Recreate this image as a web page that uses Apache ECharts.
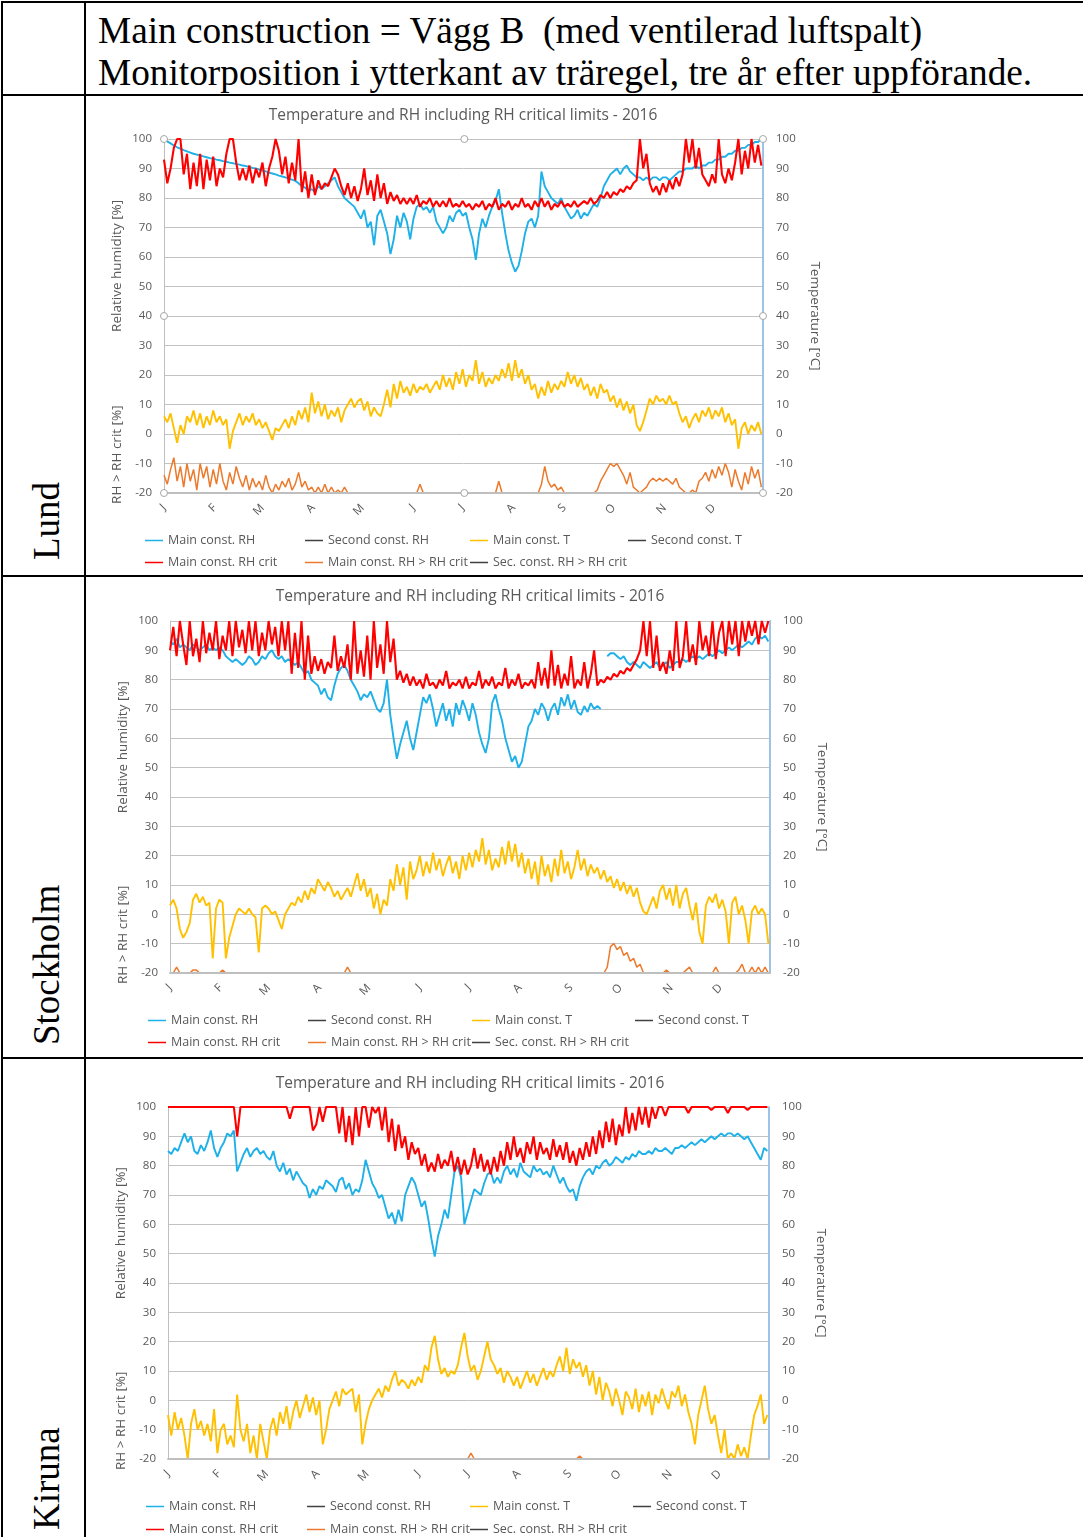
<!DOCTYPE html>
<html>
<head>
<meta charset="utf-8">
<script src="https://cdn.jsdelivr.net/npm/echarts@6/dist/echarts.min.js"></script>
<style>
  html, body { margin: 0; padding: 0; background: #fff; }
  #page { position: relative; width: 1083px; height: 1537px; overflow: hidden;
          font-family: "Liberation Serif", "Times New Roman", serif; color: #000; }
  .hl { position: absolute; left: 1px; right: 0; height: 2px; background: #000; }
  .vl { position: absolute; top: 1px; bottom: 0; width: 2px; background: #000; }
  .head { position: absolute; left: 98px; font-size: 37.3px; line-height: 42px; white-space: nowrap; }
  .rowlab { position: absolute; left: 26px; font-size: 37px; line-height: 41px; white-space: nowrap;
            transform-origin: 0 0; transform: rotate(-90deg); }
  .chart { position: absolute; left: 87px; width: 996px; filter: blur(0.6px); }
</style>
</head>
<body>
<div id="page">
  <div class="hl" style="top:1px"></div>
  <div class="hl" style="top:94px"></div>
  <div class="hl" style="top:575px"></div>
  <div class="hl" style="top:1057px"></div>
  <div class="vl" style="left:1px"></div>
  <div class="vl" style="left:84px"></div>

  <div class="head" style="top:10px">Main construction = Vägg B&nbsp;&nbsp;(med ventilerad luftspalt)<br>Monitorposition i ytterkant av träregel, tre år efter uppförande.</div>

  <div class="rowlab" style="top:560px">Lund</div>
  <div class="rowlab" style="top:1045px">Stockholm</div>
  <div class="rowlab" style="top:1530px">Kiruna</div>

  <div id="chartLund" class="chart" style="top:97px;height:478px"></div>
  <div id="chartStockholm" class="chart" style="top:578px;height:479px"></div>
  <div id="chartKiruna" class="chart" style="top:1060px;height:477px"></div>
</div>

<script>
// ---- Calendar / axis definitions (2016, leap year) ----
const YEAR = 2016;
const MONTH_DAYS = [31, 29, 31, 30, 31, 30, 31, 31, 30, 31, 30, 31];
const MONTH_LETTERS = ['J', 'F', 'M', 'A', 'M', 'J', 'J', 'A', 'S', 'O', 'N', 'D'];
const Y_MIN = -20, Y_MAX = 100, Y_STEP = 10;
const STEP = 2; // one reading every second day

const TITLE = 'Temperature and RH including RH critical limits - 2016';
const NAME_RH = 'Main const. RH';
const NAME_RH2 = 'Second const. RH';
const NAME_T = 'Main const. T';
const NAME_T2 = 'Second const. T';
const NAME_CRIT = 'Main const. RH crit';
const NAME_OVER = 'Main const. RH > RH crit';
const NAME_OVER2 = 'Sec. const. RH > RH crit';

// ---- Lund ----
const LUND_RH = [
  100,99.2,98.5,97.8,97.2,96.7,96.2,95.8,95.4,95,
  94.7,94.4,94.1,93.8,93.5,93.3,93,92.8,92.5,92.3,
  92,91.8,91.5,91.3,91,90.8,90.5,90.2,90,89.6,
  89.3,89,88.6,88.3,88,87.6,87.3,87,86.6,86.2,
  85.8,85,84,83.5,82.5,83,82,84,83,84,
  85,86,87,84,82,80,79,78,77,75,
  73,76,70,72,64,74,76,72,68,61,
  66,74,70,75,72,66,73,77,78,76,
  77,75,77,72,70,68,70,74,72,75,
  76,74,75,70,66,59,68,73,70,74,
  77,79,83,75,68,62,58,55,57,62,
  68,72,73,70,74,89,84,82,80,79,
  78,80,77,75,73,74,76,73,75,74,
  76,78,77,80,84,86,88,89,90,88,
  90,91,89,88,87,87,86,87,86,87,
  87,86,87,87,86,87,88,89,89,90,
  90,90,91,90,91,91,92,92,93,93,
  94,94,95,95,96,96,97,97,98,98,
  99,99,100
];
const LUND_CRIT = [
  93,85,90,97,100,100,88,95,83,92,
  84,95,83,93,86,94,84,90,87,95,
  100,100,92,86,90,86,91,85,90,87,
  92,84,90,94,100,96,88,94,85,92,
  86,100,82,89,80,88,81,86,83,85,
  84,87,90,88,84,81,85,80,84,79,
  83,90,81,86,79,88,80,85,78,82,
  79,81,78,80,78,80,78,81,77,79,
  78,80,77,79,77,79,77,80,77,78,
  77,79,77,78,76,78,77,79,76,78,
  77,80,76,78,77,79,76,78,77,80,
  77,78,76,79,77,80,77,79,76,78,
  77,79,77,78,77,79,77,78,79,78,
  80,78,79,81,80,82,80,82,81,83,
  82,84,83,85,86,100,90,95,85,82,
  84,81,85,82,86,83,87,84,88,100,
  92,100,90,97,88,86,84,88,85,100,
  88,85,90,86,92,100,88,96,90,100,
  92,98,91
];
const LUND_T = [
  6,4,7,2,-3,3,0,6,4,8,
  3,7,2,6,3,8,4,6,3,5,
  -5,1,4,7,3,6,4,7,3,5,
  2,4,1,-2,2,1,3,5,2,6,
  3,8,5,9,4,14,7,11,6,10,
  5,8,6,9,4,8,10,12,9,11,
  12,8,11,6,9,7,6,10,15,9,
  17,12,18,14,16,13,17,14,16,15,
  17,14,16,18,15,20,16,19,15,21,
  17,22,16,20,18,25,17,21,16,19,
  17,20,18,22,19,24,18,25,19,22,
  17,20,15,17,12,16,13,18,14,17,
  15,18,16,21,17,20,16,19,15,17,
  13,16,12,17,14,15,11,13,9,12,
  8,11,7,10,3,1,4,8,12,10,
  13,11,12,10,13,10,11,7,4,6,
  2,5,7,4,8,6,9,5,8,6,
  9,4,7,3,5,-5,2,4,0,3,
  1,4,0
];
const LUND_OVER = [
  -14,-17,-12,-8,-16,-11,-18,-10,-16,-12,
  -19,-10,-15,-11,-18,-12,-17,-10,-16,-19,
  -13,-17,-11,-15,-18,-14,-19,-15,-18,-16,
  -19,-14,-18,-20,-17,-19,-16,-18,-15,-19,
  -17,-13,-18,-16,-19,-18,-20,-18,-20,-17,
  -20,-18,-20,-19,-20,-18,-20,-20,-20,-20,
  -20,-20,-20,-20,-20,-20,-20,-20,-20,-20,
  -20,-20,-20,-20,-20,-20,-20,-20,-17,-20,
  -20,-20,-20,-20,-20,-20,-20,-20,-20,-20,
  -20,-20,-20,-20,-20,-20,-20,-20,-20,-20,
  -20,-20,-16,-20,-20,-20,-20,-20,-20,-20,
  -20,-20,-20,-20,-20,-17,-11,-16,-18,-17,
  -19,-18,-20,-20,-20,-20,-20,-20,-20,-20,
  -20,-20,-19,-16,-14,-12,-10,-11,-10,-12,
  -14,-17,-13,-18,-19,-20,-19,-18,-16,-15,
  -16,-15,-16,-15,-16,-17,-15,-18,-19,-20,
  -20,-19,-20,-16,-15,-13,-16,-12,-15,-11,
  -14,-10,-13,-18,-12,-16,-19,-13,-17,-11,
  -15,-12,-18
];

// ---- Stockholm ----
const STHLM_RH = [
  93,92,94,91,92,91,90,92,91,90,
  91,92,90,91,90,91,90,88,87,86,
  87,86,85,86,88,87,85,86,88,87,
  89,90,88,87,88,86,87,86,85,86,
  84,82,83,80,79,78,75,77,74,73,
  78,82,84,85,83,80,78,76,73,75,
  74,76,73,70,69,72,80,68,60,53,
  58,62,66,60,56,62,68,74,72,75,
  70,64,68,72,66,70,64,72,68,73,
  70,66,72,68,62,58,55,60,72,75,
  70,66,60,56,52,54,50,52,58,64,
  66,70,68,72,70,66,70,72,68,74,
  71,75,70,73,69,68,71,69,72,70,
  71,70,null,88,89,89,88,87,88,86,
  85,86,85,84,86,85,84,85,86,84,
  85,86,84,85,86,86,87,86,87,88,
  87,88,87,88,89,88,89,90,89,90,
  91,90,91,92,91,92,93,92,94,95,
  94,95,93
];
const STHLM_CRIT = [
  90,98,88,100,92,85,100,88,94,86,
  100,89,96,90,100,87,95,90,100,88,
  100,91,97,89,100,90,100,88,96,90,
  100,92,98,88,100,90,100,82,96,84,
  100,80,95,82,88,83,87,82,86,84,
  95,83,88,84,92,80,100,82,90,81,
  95,80,100,84,92,82,100,86,94,80,
  83,79,82,78,81,78,80,77,82,78,
  79,77,80,78,83,77,79,78,80,77,
  81,77,79,78,83,77,80,78,81,77,
  79,78,84,77,80,78,82,77,79,78,
  80,77,86,78,84,77,90,78,85,77,
  82,78,88,77,80,78,86,77,82,90,
  78,80,79,81,80,82,81,83,82,84,
  83,85,87,90,100,88,100,84,95,83,
  86,82,90,83,100,84,88,100,86,92,
  85,100,90,95,88,100,87,96,100,88,
  100,92,100,88,100,93,100,95,100,92,
  100,96,100
];
const STHLM_T = [
  3,5,2,-5,-8,-6,-3,5,7,4,
  6,3,4,-15,2,5,4,-15,-8,-4,
  0,2,1,0,2,0,-1,-13,2,3,
  2,0,1,-2,-5,0,2,4,3,6,
  4,8,5,9,7,12,10,8,11,9,
  6,8,5,7,9,6,10,14,8,12,
  6,9,2,7,0,5,3,12,8,17,
  10,16,5,18,12,15,20,13,18,14,
  21,15,19,13,17,20,14,18,12,20,
  15,21,16,22,18,26,17,22,15,19,
  16,23,17,25,18,24,16,21,14,19,
  12,18,10,20,13,17,11,19,13,22,
  14,18,12,16,22,15,19,13,17,14,
  16,12,15,11,13,9,12,8,11,7,
  10,6,9,4,1,0,3,6,2,8,
  10,5,9,3,10,2,7,9,3,-2,
  4,-6,-10,3,6,4,7,2,5,1,
  -10,4,6,0,3,-2,-10,1,3,0,
  2,0,-10
];
const STHLM_OVER = [
  -20,-20,-18,-20,-20,-20,-20,-19,-19,-20,
  -20,-20,-20,-20,-20,-20,-19,-20,-20,-20,
  -20,-20,-20,-20,-20,-20,-20,-20,-20,-20,
  -20,-20,-20,-20,-20,-20,-20,-20,-20,-20,
  -20,-20,-20,-20,-20,-20,-20,-20,-20,-20,
  -20,-20,-20,-20,-18,-20,-20,-20,-20,-20,
  -20,-20,-20,-20,-20,-20,-20,-20,-20,-20,
  -20,-20,-20,-20,-20,-20,-20,-20,-20,-20,
  -20,-20,-20,-20,-20,-20,-20,-20,-20,-20,
  -20,-20,-20,-20,-20,-20,-20,-20,-20,-20,
  -20,-20,-20,-20,-20,-20,-20,-20,-20,-20,
  -20,-20,-20,-20,-20,-20,-20,-20,-20,-20,
  -20,-20,-20,-20,-20,-20,-20,-20,-20,-20,
  -20,-20,-20,-18,-11,-10,-12,-11,-14,-13,
  -16,-15,-18,-17,-20,-20,-20,-20,-20,-20,
  -20,-19,-20,-20,-20,-20,-20,-19,-18,-20,
  -20,-20,-20,-20,-20,-20,-18,-20,-20,-20,
  -20,-20,-20,-19,-17,-20,-20,-18,-20,-18,
  -20,-18,-20
];

// ---- Kiruna ----
const KIRUNA_RH = [
  85,84,86,85,88,91,88,90,85,84,
  87,85,88,92,86,83,86,88,91,90,
  92,78,81,84,86,83,85,86,84,85,
  83,82,85,80,78,81,77,79,75,78,
  76,74,73,69,72,70,73,72,75,74,
  73,71,75,76,72,74,70,72,71,75,
  82,78,74,72,69,70,66,62,64,60,
  65,61,70,73,76,74,70,66,68,62,
  55,49,56,60,65,62,70,78,80,76,
  60,64,68,72,71,70,74,77,78,74,
  76,74,78,80,77,79,76,81,78,77,
  76,80,78,79,77,78,76,80,77,74,
  76,73,71,72,68,73,76,78,79,77,
  80,79,81,82,80,81,83,82,81,83,
  82,84,83,85,84,84,85,84,86,85,
  85,86,85,84,86,86,87,86,87,88,
  87,88,89,88,89,90,89,90,91,90,
  91,91,90,91,90,89,90,88,86,84,
  82,86,85
];
const KIRUNA_CRIT = [
  100,100,100,100,100,100,100,100,100,100,
  100,100,100,100,100,100,100,100,100,100,
  100,90,100,100,100,100,100,100,100,100,
  100,100,100,100,100,100,100,96,100,100,
  100,100,100,100,92,94,100,95,100,100,
  100,100,91,100,88,97,87,100,90,100,
  100,93,100,98,100,92,100,88,96,85,
  94,86,90,82,88,84,86,80,84,78,
  81,78,84,79,82,80,85,78,83,77,
  82,77,80,86,79,84,78,82,77,83,
  78,85,80,88,82,90,83,86,81,88,
  84,90,82,88,84,86,82,89,83,87,
  82,88,81,85,80,86,82,88,83,90,
  84,92,86,95,88,96,87,94,90,100,
  91,98,92,100,94,100,93,100,96,100,
  100,97,100,100,100,100,100,100,98,100,
  100,100,100,100,100,99,100,100,100,100,
  98,100,100,100,100,100,99,100,100,100,
  100,100,100
];
const KIRUNA_T = [
  -5,-12,-4,-10,-6,-12,-20,-8,-3,-10,
  -7,-12,-8,-14,-3,-18,-10,-8,-15,-12,
  -16,2,-10,-14,-8,-18,-12,-20,-8,-14,
  -20,-10,-6,-12,-4,-8,-2,-10,-4,0,
  -6,-2,2,-4,1,-5,0,-15,-10,-3,
  0,3,-2,4,2,3,4,-4,2,-15,
  -8,-3,0,2,4,1,5,3,7,10,
  5,7,6,4,7,5,8,6,12,10,
  18,22,14,9,11,8,10,9,12,18,
  23,15,10,12,7,10,15,20,14,12,
  9,11,6,10,8,5,8,4,7,10,
  6,9,5,8,11,7,10,8,12,15,
  10,18,9,14,11,13,8,12,5,10,
  2,8,0,6,3,-2,4,0,-5,3,
  1,-3,4,-4,2,-2,3,-5,2,-1,
  4,0,-3,3,1,5,-2,2,-4,-8,
  -15,-5,0,5,-3,-8,-5,-12,-18,-10,
  -20,-18,-20,-15,-19,-16,-20,-12,-5,-2,
  2,-8,-5
];
const KIRUNA_OVER = [
  -20,-20,-20,-20,-20,-20,-20,-20,-20,-20,
  -20,-20,-20,-20,-20,-20,-20,-20,-20,-20,
  -20,-20,-20,-20,-20,-20,-20,-20,-20,-20,
  -20,-20,-20,-20,-20,-20,-20,-20,-20,-20,
  -20,-20,-20,-20,-20,-20,-20,-20,-20,-20,
  -20,-20,-20,-20,-20,-20,-20,-20,-20,-20,
  -20,-20,-20,-20,-20,-20,-20,-20,-20,-20,
  -20,-20,-20,-20,-20,-20,-20,-20,-20,-20,
  -20,-20,-20,-20,-20,-20,-20,-20,-20,-20,
  -20,-20,-18,-20,-20,-20,-20,-20,-20,-20,
  -20,-20,-20,-20,-20,-20,-20,-20,-20,-20,
  -20,-20,-20,-20,-20,-20,-20,-20,-20,-20,
  -20,-20,-20,-20,-20,-19,-20,-20,-20,-20,
  -20,-20,-20,-20,-20,-20,-20,-20,-20,-20,
  -20,-20,-20,-20,-20,-20,-20,-20,-20,-20,
  -20,-20,-20,-20,-20,-20,-20,-20,-20,-20,
  -20,-20,-20,-20,-20,-20,-20,-20,-20,-20,
  -20,-20,-20,-20,-20,-20,-20,-20,-20,-20,
  -20,-20,-20
];

// ---- Day categories & month-start ticks ----
const DAY_CATS = [];
const MONTH_START = new Map();
MONTH_DAYS.forEach((n, m) => {
  MONTH_START.set(DAY_CATS.length, MONTH_LETTERS[m]);
  for (let d = 1; d <= n; d++) {
    DAY_CATS.push(YEAR + '-' + String(m + 1).padStart(2, '0') + '-' + String(d).padStart(2, '0'));
  }
});

const FONT = '"Open Sans", "Liberation Sans", sans-serif';
const TXT = '#595959';
const C_RH = '#1EB0E8', C_T = '#FFC000', C_CRIT = '#FF0000', C_OVER = '#EC7A2C', C_DARK = '#404040';

function points(values) {
  return values.map((v, i) => [i * STEP, v]);
}

function lineSeries(name, values, color, yAxisIndex, width, z) {
  return {
    name, type: 'line', yAxisIndex, data: values ? points(values) : [], z,
    symbol: 'none', showSymbol: false, silent: true, connectNulls: false,
    lineStyle: { color, width }, itemStyle: { color }
  };
}

function legendItem(name, left, top) {
  return {
    data: [name], left, top, padding: 0, icon: 'rect', itemWidth: 18, itemHeight: 1.5, selectedMode: false,
    textStyle: { fontFamily: FONT, fontSize: 12.5, color: TXT }
  };
}

function buildOption(cfg) {
  const axisLabel = { fontFamily: FONT, fontSize: 11.5, color: TXT };
  return {
    animation: false,
    title: {
      text: TITLE, left: cfg.titleX, top: cfg.titleTop, textAlign: 'center',
      textStyle: { fontFamily: FONT, fontSize: 15.5, fontWeight: 'normal', color: TXT }
    },
    grid: cfg.grid,
    xAxis: {
      type: 'category', data: DAY_CATS, boundaryGap: false, z: 10,
      axisLine: { onZero: false, lineStyle: { color: '#BFBFBF', width: 1.8 } },
      axisTick: { show: false },
      splitLine: { show: false },
      axisLabel: {
        ...axisLabel, rotate: 45, margin: 13,
        interval: (idx) => MONTH_START.has(idx),
        formatter: (val, idx) => MONTH_START.get(idx) || ''
      }
    },
    yAxis: [
      {
        type: 'value', min: Y_MIN, max: Y_MAX, interval: Y_STEP, position: 'left',
        axisLine: { show: true, lineStyle: { color: '#BFBFBF' } },
        axisTick: { show: false },
        axisLabel: { ...axisLabel, margin: 12 },
        splitLine: { lineStyle: { color: '#C2C2C2', width: 1 } }
      },
      {
        type: 'value', min: Y_MIN, max: Y_MAX, interval: Y_STEP, position: 'right',
        name: 'Temperature [°C]', nameLocation: 'middle', nameRotate: -90, nameGap: 45,
        nameTextStyle: { fontFamily: FONT, fontSize: 13.5, color: TXT },
        axisLine: { show: true, lineStyle: { color: '#9DC3E6', width: 2 } },
        axisTick: { show: false },
        axisLabel: { ...axisLabel, margin: 13 },
        splitLine: { show: false }
      }
    ],
    legend: [
      legendItem(NAME_RH, cfg.cols[0], cfg.rows[0]),
      legendItem(NAME_RH2, cfg.cols[1], cfg.rows[0]),
      legendItem(NAME_T, cfg.cols[2], cfg.rows[0]),
      legendItem(NAME_T2, cfg.cols[3], cfg.rows[0]),
      legendItem(NAME_CRIT, cfg.cols[0], cfg.rows[1]),
      legendItem(NAME_OVER, cfg.cols[1], cfg.rows[1]),
      legendItem(NAME_OVER2, cfg.cols[2], cfg.rows[1])
    ],
    series: [
      lineSeries(NAME_RH, cfg.rh, C_RH, 0, 1.9, 2),
      lineSeries(NAME_RH2, null, C_DARK, 0, 1.2, 2),
      lineSeries(NAME_T, cfg.t, C_T, 1, 1.9, 2),
      lineSeries(NAME_T2, null, C_DARK, 1, 1.2, 2),
      lineSeries(NAME_CRIT, cfg.crit, C_CRIT, 0, 2.1, 3),
      lineSeries(NAME_OVER, cfg.over, C_OVER, 0, 1.5, 1),
      lineSeries(NAME_OVER2, null, C_DARK, 0, 1.2, 1)
    ]
  };
}

const CHARTS = [
  { el: 'chartLund', rh: LUND_RH, crit: LUND_CRIT, t: LUND_T, over: LUND_OVER, handles: true,
    titleX: 371, titleTop: 6, grid: { left: 77, right: 320, top: 42, bottom: 82 },
    cols: [58, 218, 383, 541], rows: [437, 459] },
  { el: 'chartStockholm', rh: STHLM_RH, crit: STHLM_CRIT, t: STHLM_T, over: STHLM_OVER, handles: false,
    titleX: 378, titleTop: 6, grid: { left: 83, right: 313, top: 43, bottom: 84 },
    cols: [61, 221, 385, 548], rows: [436, 458] },
  { el: 'chartKiruna', rh: KIRUNA_RH, crit: KIRUNA_CRIT, t: KIRUNA_T, over: KIRUNA_OVER, handles: false,
    titleX: 378, titleTop: 11, grid: { left: 81, right: 314, top: 47, bottom: 78 },
    cols: [59, 220, 383, 546], rows: [440, 463] }
];

CHARTS.forEach(cfg => {
  const chart = echarts.init(document.getElementById(cfg.el), null, { renderer: 'canvas' });
  chart.setOption(buildOption(cfg));

  // Left-axis titles: one for the RH part, one for the RH > RH crit part
  const xLeft = chart.convertToPixel({ xAxisIndex: 0 }, 0);
  const nameStyle = (text) => ({ text, fill: TXT, font: '13.5px ' + FONT, align: 'center', verticalAlign: 'middle' });
  const graphics = [
    { type: 'text', x: xLeft - 47, y: chart.convertToPixel({ yAxisIndex: 0 }, 57), rotation: Math.PI / 2,
      style: nameStyle('Relative humidity [%]'), silent: true },
    { type: 'text', x: xLeft - 47, y: chart.convertToPixel({ yAxisIndex: 0 }, -7), rotation: Math.PI / 2,
      style: nameStyle('RH > RH crit [%]'), silent: true }
  ];

  // Selection handles around the plot area
  if (cfg.handles) {
    const xs = [0, 183, DAY_CATS.length - 1].map(v => chart.convertToPixel({ xAxisIndex: 0 }, v));
    const ys = [Y_MAX, 40, Y_MIN].map(v => chart.convertToPixel({ yAxisIndex: 0 }, v));
    [[0, 0], [1, 0], [2, 0], [0, 1], [2, 1], [0, 2], [1, 2], [2, 2]].forEach(([ix, iy]) => {
      graphics.push({ type: 'circle', shape: { cx: xs[ix], cy: ys[iy], r: 3.5 }, z: 100, silent: true,
        style: { fill: '#FFFFFF', stroke: '#A6A6A6', lineWidth: 1 } });
    });
  }
  chart.setOption({ graphic: graphics });
});
</script>
</body>
</html>
